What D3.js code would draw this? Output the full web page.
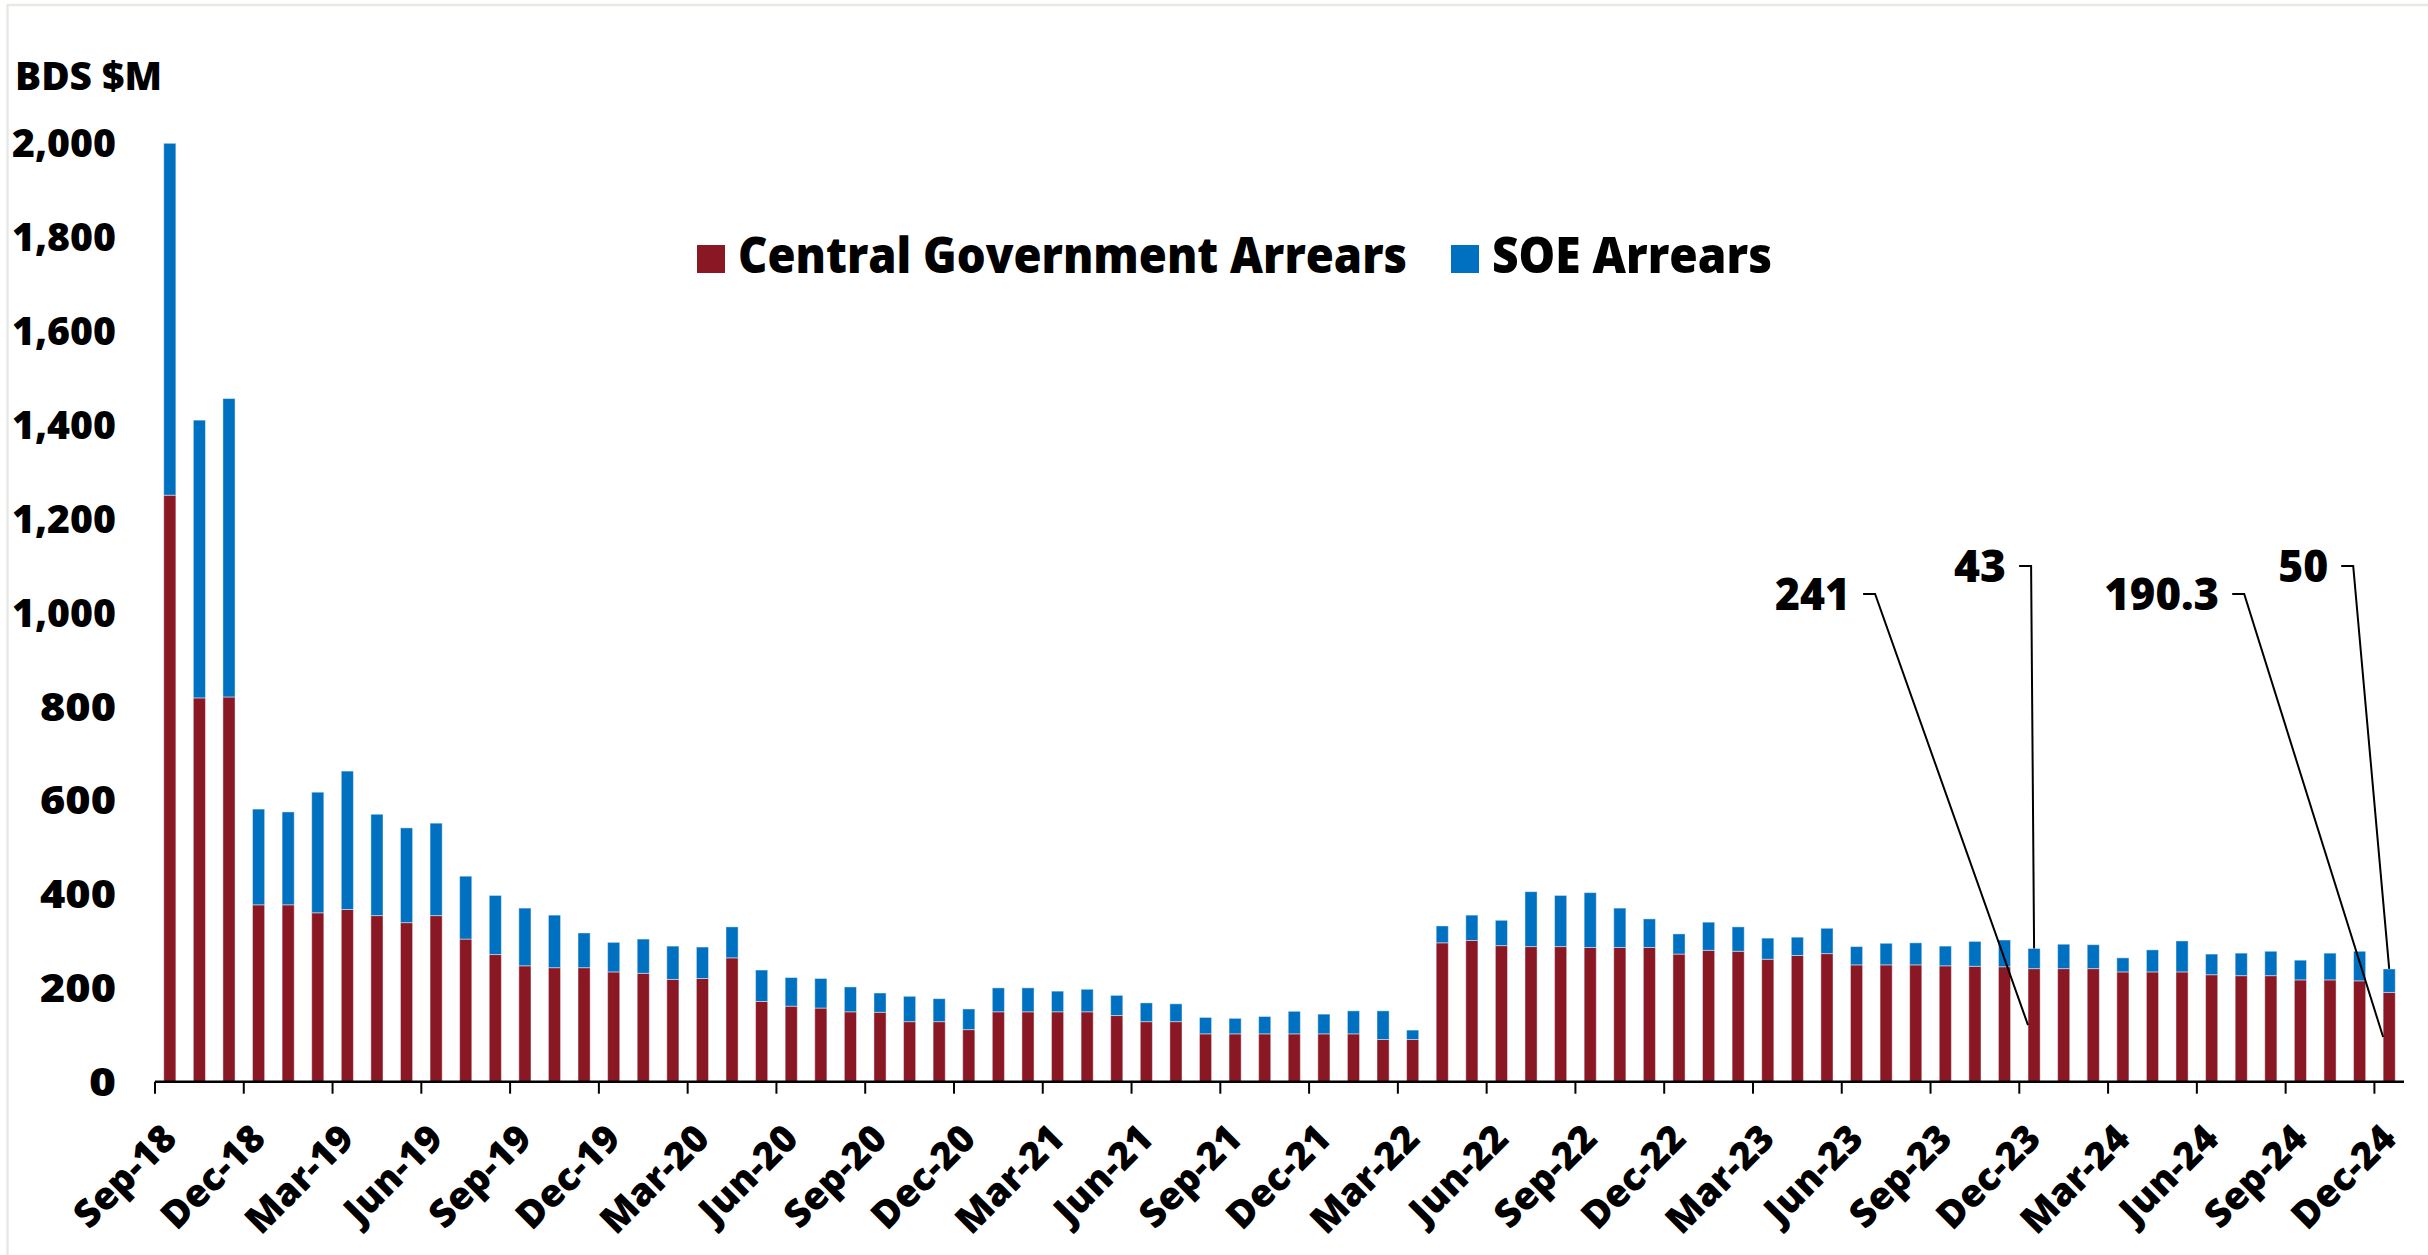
<!DOCTYPE html>
<html>
<head>
<meta charset="utf-8">
<script src="https://cdn.jsdelivr.net/npm/d3@7"></script>
<style>
  html, body { margin: 0; padding: 0; background: #fff; }
  svg { display: block; }
  text { font-family: "Open Sans", "Noto Sans", sans-serif; font-weight: 800; fill: #000; }
</style>
</head>
<body>
<svg id="chart" width="2428" height="1255"></svg>
<script>
// ---------------- DATA ----------------
const categories = [
  "Sep-18","Oct-18","Nov-18","Dec-18","Jan-19","Feb-19","Mar-19","Apr-19","May-19","Jun-19","Jul-19","Aug-19",
  "Sep-19","Oct-19","Nov-19","Dec-19","Jan-20","Feb-20","Mar-20","Apr-20","May-20","Jun-20","Jul-20","Aug-20",
  "Sep-20","Oct-20","Nov-20","Dec-20","Jan-21","Feb-21","Mar-21","Apr-21","May-21","Jun-21","Jul-21","Aug-21",
  "Sep-21","Oct-21","Nov-21","Dec-21","Jan-22","Feb-22","Mar-22","Apr-22","May-22","Jun-22","Jul-22","Aug-22",
  "Sep-22","Oct-22","Nov-22","Dec-22","Jan-23","Feb-23","Mar-23","Apr-23","May-23","Jun-23","Jul-23","Aug-23",
  "Sep-23","Oct-23","Nov-23","Dec-23","Jan-24","Feb-24","Mar-24","Apr-24","May-24","Jun-24","Jul-24","Aug-24",
  "Sep-24","Oct-24","Nov-24","Dec-24"
];
const centralGov = [
  1250, 818, 820, 377, 377, 360, 367, 354, 339, 354, 304, 271,
  247, 243, 243, 234, 231, 218, 220, 264, 171, 161, 157, 149,
  148, 128, 128, 111, 149, 149, 149, 149, 141, 128, 128, 102,
  102, 102, 102, 102, 102, 90, 90, 296, 301, 290, 288, 288,
  286, 286, 286, 272, 280, 278, 261, 269, 273, 249, 249, 249,
  247, 246, 245, 241, 241, 241, 234, 234, 234, 228, 226, 226,
  217, 217, 215, 190.3
];
const soe = [
  750, 592, 636, 204, 198, 257, 295, 216, 202, 197, 134, 126,
  123, 112, 74, 63, 73, 71, 67, 66, 67, 61, 63, 53,
  41, 54, 49, 44, 51, 51, 44, 48, 43, 40, 38, 35,
  33, 37, 48, 42, 49, 61, 20, 36, 54, 54, 117, 109,
  117, 84, 61, 43, 60, 52, 45, 39, 54, 39, 46, 47,
  42, 53, 57, 43, 52, 51, 30, 47, 66, 44, 48, 52,
  42, 57, 63, 50
];
const seriesNames = ["Central Government Arrears", "SOE Arrears"];
const yTicks = [0, 200, 400, 600, 800, 1000, 1200, 1400, 1600, 1800, 2000];
const xTickLabels = categories.filter((d, i) => i % 3 === 0);
const yAxisTitle = "BDS $M";
// annotations: category, series index, label
const annotCategory = ["Dec-23", "Dec-23", "Dec-24", "Dec-24"];
const annotSeries = [0, 1, 0, 1];
const annotText = ["241", "43", "190.3", "50"];

// ---------------- LAYOUT / STYLE ----------------
const colors = ["#8A1824", "#0070C0"];
const W = 2428, H = 1255;
const plot = { left: 155, right: 2404, top: 143.3, bottom: 1081.7 };

const svg = d3.select("#chart");

// light frame (top + left edges visible)
svg.append("line").attr("x1", 7).attr("x2", W).attr("y1", 5).attr("y2", 5)
  .attr("stroke", "#e9e9e4").attr("stroke-width", 2.5);
svg.append("line").attr("x1", 7.5).attr("x2", 7.5).attr("y1", 5).attr("y2", H)
  .attr("stroke", "#e9e9e4").attr("stroke-width", 2.5);

const x = d3.scaleBand().domain(categories).range([plot.left, plot.right])
  .paddingInner(0.59).paddingOuter(0.295);
const y = d3.scaleLinear().domain([0, 2000]).range([plot.bottom, plot.top]);

const rows = categories.map((c, i) => ({ cat: c, central: centralGov[i], soe: soe[i] }));
const stack = d3.stack().keys(["central", "soe"])(rows);

svg.append("g").selectAll("g").data(stack).join("g")
  .attr("fill", (d, i) => colors[i])
  .selectAll("rect").data(d => d).join("rect")
  .attr("x", d => x(d.data.cat))
  .attr("width", x.bandwidth())
  .attr("y", d => y(d[1]))
  .attr("height", d => y(d[0]) - y(d[1]))
  .attr("stroke", "rgba(255,255,255,0.45)")
  .attr("stroke-width", 1);

// Y axis (labels only)
const yAxis = d3.axisLeft(y).tickValues(yTicks).tickFormat(d3.format(",")).tickSize(0).tickPadding(0);
const gy = svg.append("g").attr("transform", "translate(116,0)").call(yAxis);
gy.select(".domain").remove();
gy.selectAll("text").attr("font-size", 38).attr("font-family", null).attr("dy", "0.36em")
  .attr("textLength", d => d >= 1000 ? 104 : (d === 0 ? 27 : 76)).attr("lengthAdjust", "spacingAndGlyphs");

// Y title
svg.append("text").attr("x", 15).attr("y", 90).attr("font-size", 39)
  .attr("textLength", 147).attr("lengthAdjust", "spacingAndGlyphs").text(yAxisTitle);

// X axis line and ticks at category boundaries every 3 months
const step = x.step();
svg.append("line").attr("x1", plot.left).attr("x2", plot.right)
  .attr("y1", plot.bottom).attr("y2", plot.bottom)
  .attr("stroke", "#000").attr("stroke-width", 2.5);
const tickCats = categories.filter((d, i) => i % 3 === 0);
svg.append("g").selectAll("line").data(tickCats).join("line")
  .attr("x1", d => x(d) + x.bandwidth() / 2 - step / 2)
  .attr("x2", d => x(d) + x.bandwidth() / 2 - step / 2)
  .attr("y1", plot.bottom).attr("y2", plot.bottom + 12)
  .attr("stroke", "#000").attr("stroke-width", 2);

svg.append("g").selectAll("text").data(xTickLabels).join("text")
  .attr("text-anchor", "end")
  .attr("font-size", 38)
  .attr("transform", d => `translate(${x(d) + x.bandwidth() / 2 + 9},${plot.bottom + 59}) rotate(-45)`)
  .text(d => d);

// Legend
const legend = svg.append("g");
const legendX = [697, 1451];
const legendTextLen = [669, 280];
seriesNames.forEach((name, i) => {
  legend.append("rect").attr("x", legendX[i]).attr("y", 245).attr("width", 28).attr("height", 28)
    .attr("fill", colors[i]);
  legend.append("text").attr("x", legendX[i] + 41).attr("y", 273)
    .attr("font-size", 50)
    .attr("textLength", legendTextLen[i]).attr("lengthAdjust", "spacingAndGlyphs")
    .text(name);
});

// Annotations with leader lines
const annotDx = [-184, -28, -170, -61];     // label right end relative to bar centre
const annotBaseline = [610, 582];           // baselines for lower / upper labels
const annotTextLen = [75, 52, 115, 50];
const ann = svg.append("g");
annotText.forEach((t, i) => {
  const c = annotCategory[i];
  const idx = categories.indexOf(c);
  const s = annotSeries[i];
  const cx = x(c) + x.bandwidth() / 2;
  const right = cx + annotDx[i];
  const base = s === 0 ? annotBaseline[0] : annotBaseline[1];
  ann.append("text").attr("x", right).attr("y", base).attr("text-anchor", "end")
    .attr("font-size", 45)
    .attr("textLength", annotTextLen[i]).attr("lengthAdjust", "spacingAndGlyphs")
    .text(t);
  let tx, ty;
  if (s === 0) { tx = x(c); ty = y(centralGov[idx] / 2); }
  else { tx = cx; ty = y(centralGov[idx] + soe[idx]); }
  const ly = base - 16;
  ann.append("path")
    .attr("d", `M${right + 13},${ly} H${right + 25} L${tx},${ty}`)
    .attr("fill", "none").attr("stroke", "#000").attr("stroke-width", 2);
});
</script>
</body>
</html>
